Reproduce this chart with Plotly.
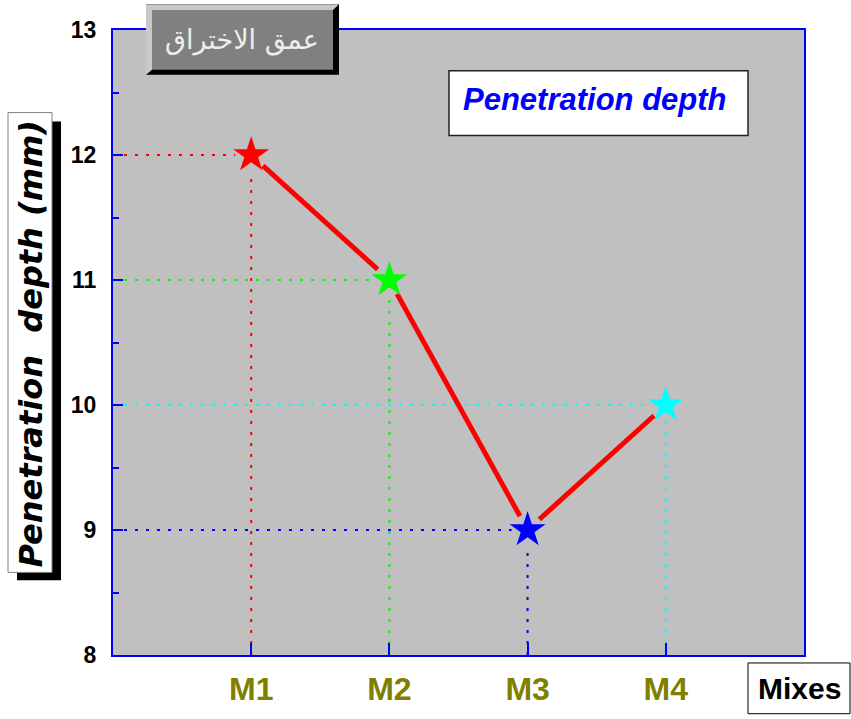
import plotly.graph_objects as go

# ---- data ----
mixes = ["M1", "M2", "M3", "M4"]
depth_mm = [12, 11, 9, 10]
point_colors = ["#ff0000", "#00ff00", "#0000ff", "#00ffff"]
y_ticks = [8, 9, 10, 11, 12, 13]

series_name = "Penetration depth"
y_title = "Penetration\u00a0 depth (mm)"
x_title = "Mixes"
box_title = "عمق الاختراق"

# ---- page geometry (pixels) ----
W_PAGE, H_PAGE = 851, 719
L, R, T, B = 113, 804, 30, 658
PW, PH = R - L, B - T


def px(x):
    return (x - L) / PW


def py(y):
    return (B - y) / PH


def rect(x0, y0, x1, y1, fill, line_color=None, line_width=0):
    return dict(type="rect", xref="paper", yref="paper",
                x0=px(x0), x1=px(x1), y0=py(y1), y1=py(y0),
                fillcolor=fill, layer="above",
                line=dict(color=line_color or fill, width=line_width))


def poly(points, fill):
    d = "M " + " L ".join(f"{px(x):.5f},{py(y):.5f}" for x, y in points) + " Z"
    return dict(type="path", xref="paper", yref="paper", path=d,
                fillcolor=fill, line=dict(width=0), layer="above")


fig = go.Figure()

# connecting line
fig.add_trace(go.Scatter(x=mixes, y=depth_mm, mode="lines",
                         line=dict(color="#ff0000", width=5),
                         hoverinfo="skip", showlegend=False))
# background-coloured halo so the line stops short of each star
fig.add_trace(go.Scatter(x=mixes, y=depth_mm, mode="markers",
                         marker=dict(symbol="circle", size=32, color="#c0c0c0",
                                     line=dict(width=0)),
                         hoverinfo="skip", showlegend=False))
# star markers
fig.add_trace(go.Scatter(x=mixes, y=depth_mm, mode="markers", name=series_name,
                         marker=dict(symbol="star", size=27, color=point_colors,
                                     line=dict(width=0)),
                         showlegend=False))

shapes = []
# dotted drop lines from each point to both axes
for m, v, c in zip(mixes, depth_mm, point_colors):
    shapes.append(dict(type="line", xref="x", yref="y", x0=-1, x1=m, y0=v, y1=v,
                       line=dict(color=c, width=2, dash="3px,8px"), layer="below"))
    shapes.append(dict(type="line", xref="x", yref="y", x0=m, x1=m, y0=y_ticks[0], y1=v,
                       line=dict(color=c, width=2, dash="3px,8px"), layer="below"))

# y-axis title box with drop shadow
shapes.append(rect(17, 122, 61, 583, "#000000"))
shapes.append(rect(8, 113, 52, 575, "#ffffff", "#808080", 1))

# series label box
shapes.append(rect(449, 71, 748, 136, "#ffffff", "#222222", 1.5))

# x-axis title box
shapes.append(rect(748, 666, 850, 717, "#ffffff", "#000000", 1))

# bevelled title button
shapes.append(rect(146, 4, 339, 75, "#000000"))
shapes.append(poly([(146, 4), (339, 4), (333, 10), (152, 10), (152, 70), (146, 75)], "#c8c8c8"))
shapes.append(rect(152, 10, 333, 70, "#808080"))

annotations = [
    dict(x=px(31), y=py(346), xref="paper", yref="paper", text=y_title,
         textangle=-90, showarrow=False, xanchor="center", yanchor="middle",
         font=dict(family="DejaVu Sans", size=32, color="#000000",
                   weight="bold", style="italic")),
    dict(x=px(595), y=py(100), xref="paper", yref="paper", text=series_name,
         showarrow=False, xanchor="center", yanchor="middle",
         font=dict(family="Liberation Sans", size=31, color="#0000ff",
                   weight="bold", style="italic")),
    dict(x=px(799), y=py(692), xref="paper", yref="paper", text=x_title,
         showarrow=False, xanchor="center", yanchor="middle",
         font=dict(family="Liberation Sans", size=30, color="#000000", weight="bold")),
    dict(x=px(242), y=py(40), xref="paper", yref="paper", text=box_title,
         showarrow=False, xanchor="center", yanchor="middle",
         font=dict(family="DejaVu Sans", size=27, color="#eeeeee")),
]

fig.update_layout(
    width=W_PAGE, height=H_PAGE,
    margin=dict(l=L, r=W_PAGE - R, t=T, b=H_PAGE - B, pad=0),
    paper_bgcolor="#ffffff", plot_bgcolor="#c0c0c0",
    shapes=shapes, annotations=annotations,
    showlegend=False,
)

fig.update_xaxes(
    type="category", categoryorder="array", categoryarray=mixes,
    range=[-1, len(mixes)],
    showgrid=False, zeroline=False,
    showline=True, linecolor="#0000ff", linewidth=2, mirror=True,
    ticks="inside", ticklen=12, tickwidth=2, tickcolor="#0000ff",
    tickfont=dict(family="Liberation Sans", size=32, color="#808000", weight="bold"),
    ticklabelstandoff=5,
)
fig.update_yaxes(
    range=[y_ticks[0], y_ticks[-1]], tickvals=y_ticks,
    showgrid=False, zeroline=False,
    showline=True, linecolor="#0000ff", linewidth=2, mirror=True,
    ticks="inside", ticklen=10, tickwidth=2, tickcolor="#0000ff",
    minor=dict(dtick=0.5, ticks="inside", ticklen=6, tickwidth=2,
               tickcolor="#0000ff", showgrid=False),
    tickfont=dict(family="Liberation Sans", size=23, color="#000000", weight="bold"),
    ticklabelstandoff=10,
)

fig.write_html("out.html")
